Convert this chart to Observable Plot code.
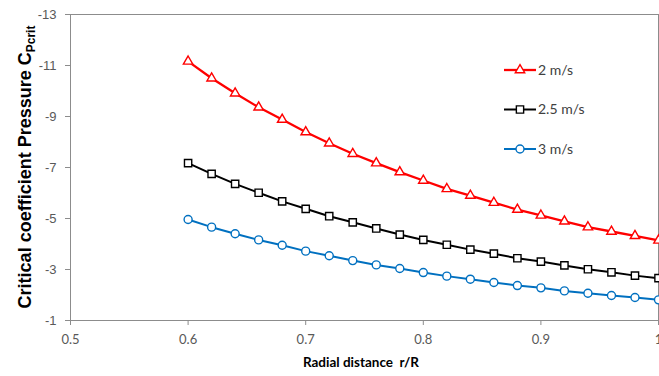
<!DOCTYPE html>
<html><head><meta charset="utf-8">
<script src="https://cdn.jsdelivr.net/npm/d3@7"></script>
<script src="https://cdn.jsdelivr.net/npm/@observablehq/plot@0.6"></script>
<style>
body{margin:0;background:#fff;}
#wrap{position:relative;width:659px;height:376px;}
svg [aria-label="y-axis tick"], svg [aria-label="x-axis tick"]{stroke:#8c8c8c;}
</style></head><body><div id="wrap"></div>
<script>
const radius = [0.6,0.62,0.64,0.66,0.68,0.7,0.72,0.74,0.76,0.78,0.8,0.82,0.84,0.86,0.88,0.9,0.92,0.94,0.96,0.98,1.0];
const cp2 = [-11.16,-10.50,-9.91,-9.36,-8.88,-8.39,-7.95,-7.54,-7.17,-6.82,-6.49,-6.16,-5.90,-5.62,-5.35,-5.12,-4.89,-4.66,-4.49,-4.32,-4.14];
const cp25 = [-7.17,-6.75,-6.36,-6.01,-5.67,-5.38,-5.09,-4.85,-4.61,-4.37,-4.16,-3.97,-3.78,-3.62,-3.44,-3.31,-3.16,-3.01,-2.89,-2.76,-2.66];
const cp3 = [-4.96,-4.66,-4.40,-4.16,-3.95,-3.72,-3.54,-3.35,-3.18,-3.04,-2.88,-2.74,-2.62,-2.49,-2.37,-2.28,-2.16,-2.07,-1.98,-1.90,-1.81];
const seriesNames = ["2 m/s","2.5 m/s","3 m/s"];
const xTicks = [0.5,0.6,0.7,0.8,0.9,1];
const yTicks = [-1,-3,-5,-7,-9,-11,-13];
const xLabel = "Radial distance  r/R";
const yLabel = "Critical coefficient Pressure C";
const yLabelSub = "Pcrit";

const colors = ["#ff0000","#000000","#0070c0"];
const symbols = ["triangle","square","circle"];
const symbolFns = [d3.symbolTriangle, d3.symbolSquare, d3.symbolCircle];
const radii = [3.5, 4.1, 4.0];
const lineWidths = [2.3, 2, 2];

const allValues = [cp2, cp25, cp3];
const rows = allValues.flatMap((vals, s) => vals.map((v, i) => ({r: radius[i], cp: v, series: seriesNames[s]})));

const marks = [Plot.frame({stroke:"#8c8c8c"}),
  Plot.axisY({ticks:yTicks, tickSize:5, tickPadding:9, tickFormat:d=>String(d), label:null, color:"#595959", fontSize:13}),
  Plot.axisX({ticks:xTicks, tickSize:5, tickPadding:9, tickFormat:d=>String(d), label:null, color:"#595959", fontFamily:"Lato", fontSize:13})
];
seriesNames.forEach((name, s) => {
  const data = rows.filter(d => d.series === name);
  marks.push(Plot.line(data, {x:"r", y:"cp", stroke:colors[s], strokeWidth:lineWidths[s]}));
});
seriesNames.forEach((name, s) => {
  const data = rows.filter(d => d.series === name);
  marks.push(Plot.dot(data, {x:"r", y:"cp", stroke:colors[s], fill:"white", symbol:symbols[s], r:radii[s], strokeWidth:1.4}));
});

const chart = Plot.plot({
  width:659, height:376,
  marginLeft:70, marginRight:1, marginTop:14, marginBottom:56,
  style:{fontFamily:"'Liberation Sans', Arial, sans-serif", fontSize:"13px", background:"#fff"},
  x:{domain:[0.5,1]},
  y:{domain:[-1,-13]},
  marks
});
document.getElementById("wrap").appendChild(chart);

const svg = d3.select(chart);
const xs = chart.scale("x"), ys = chart.scale("y");
const midY = (ys.apply(-1) + ys.apply(-13)) / 2;
const yt = svg.append("text")
  .attr("transform", `translate(31,${midY}) rotate(-90)`)
  .attr("text-anchor","middle")
  .attr("font-family","'Liberation Sans', Arial, sans-serif")
  .attr("font-weight","bold").attr("font-size",18).attr("fill","#000");
yt.append("tspan").text(yLabel);
yt.append("tspan").attr("font-size",12).attr("dy",4).text(yLabelSub);

svg.append("text")
  .attr("x", (xs.apply(0.5)+xs.apply(1))/2 - 3).attr("y", 367)
  .attr("text-anchor","middle")
  .attr("font-family","Lato, sans-serif").attr("font-weight","bold").attr("font-size",13.5).attr("fill","#000")
  .text(xLabel);

// legend
const legendY = [70, 109.5, 149];
const lg = svg.append("g");
seriesNames.forEach((name, s) => {
  const g = lg.append("g").attr("transform", `translate(520,${legendY[s]})`);
  g.append("line").attr("x1",-16).attr("x2",16).attr("stroke",colors[s]).attr("stroke-width",lineWidths[s]);
  g.append("path").attr("d", d3.symbol(symbolFns[s], radii[s]*radii[s]*Math.PI)())
    .attr("fill","white").attr("stroke",colors[s]).attr("stroke-width",1.4);
  g.append("text").attr("x",18).attr("dy","0.35em").attr("text-anchor","start")
    .attr("font-family","Lato, sans-serif").attr("font-size",14).attr("fill","#404040").text(name);
});
</script></body></html>
